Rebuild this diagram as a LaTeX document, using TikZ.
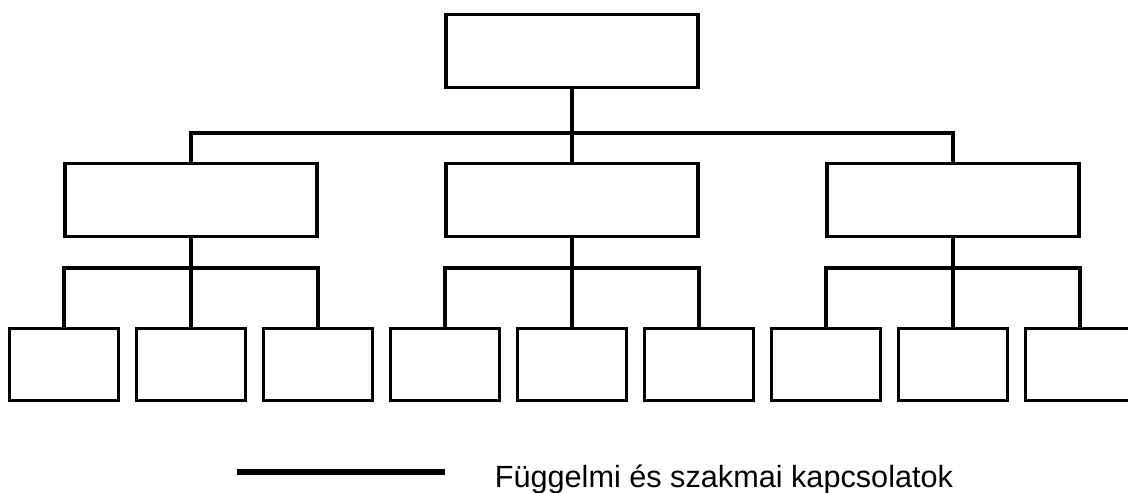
\documentclass[tikz,border=0pt]{standalone}
\usepackage{fontspec}
\setmainfont{Liberation Sans}
\usepackage{tikz}
\usetikzlibrary{calc}

\begin{document}
\begin{tikzpicture}[x=0.025cm, y=-0.025cm,
    box/.style={draw, line width=2.3pt, fill=white, inner sep=0pt},
    bigbox/.style={box, minimum width=6.3cm, minimum height=1.83cm},
    leafbox/.style={box, minimum width=2.73cm, minimum height=1.81cm},
    link/.style={line width=2.5pt, line cap=rect},
    legendline/.style={line width=3.6pt}]
    % Canvas
    \useasboundingbox[fill=white] (0,0) rectangle (1128,492);
    \clip (0,0) rectangle (1128,492);

    % Top and middle level
    \node[bigbox] (top) at (572,51) {};
    \foreach \j/\x in {1/191, 2/572, 3/953} {
        \node[bigbox] (m\j) at (\x,200) {};
    }

    % Bottom level
    \foreach \i in {1,...,9} {
        \node[leafbox] (b\i) at ({64+127*(\i-1)},364.5) {};
    }

    % Bus lines
    \coordinate (bus) at (572,133);
    \draw[link] (top.south) -- (m2.north);
    \draw[link] (m1.north) |- (bus) -| (m3.north);
    \foreach \j/\l/\c/\r in {1/1/2/3, 2/4/5/6, 3/7/8/9} {
        \coordinate (sb\j) at ($(m\j.south)+(0,30)$);
        \draw[link] (m\j.south) -- (b\c.north);
        \draw[link] (b\l.north) |- (sb\j) -| (b\r.north);
    }

    % Legend
    \coordinate (leg-a) at (237,472);
    \coordinate (leg-b) at (445,472);
    \draw[legendline] (leg-a) -- (leg-b);
    \node[anchor=base west, inner sep=0pt, font=\fontsize{21.8}{26}\selectfont]
        (legtext) at (494.5,487) {Függelmi és szakmai kapcsolatok};
\end{tikzpicture}
\end{document}
